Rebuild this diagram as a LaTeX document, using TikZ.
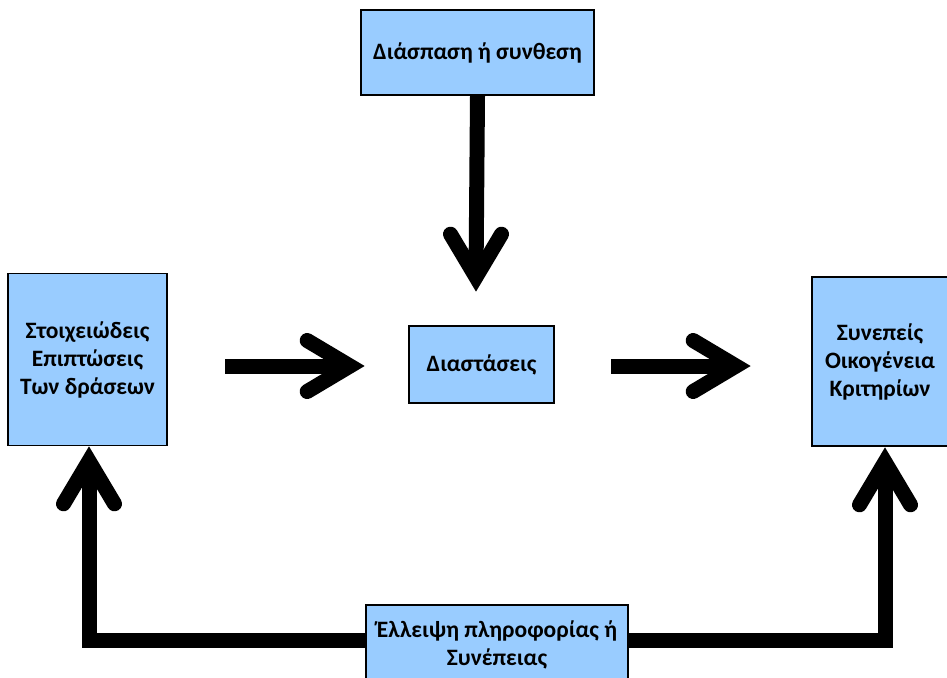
\documentclass[tikz,border=0pt]{standalone}
\usepackage{fontspec}
\setmainfont{Carlito}
\begin{document}
\begin{tikzpicture}[x=1pt,y=-1pt,
  box/.style={draw=black, line width=1.6pt, fill=boxblue, align=center,
    font=\fontsize{23.5}{28}\selectfont\bfseries, inner sep=0pt},
  shaft/.style={line width=15pt, line join=miter},
  chev/.pic={\draw[line width=15pt, line cap=round, line join=miter]
    (-42.8,25.5) -- (0,0) -- (-42.8,-25.5);}]
\definecolor{boxblue}{RGB}{153,204,255}
\useasboundingbox (0,0) rectangle (947,677);

% boxes
\node[box, minimum width=233pt, minimum height=85pt] (top) at (477.5,52.5) {Διάσπαση ή συνθεση};
\node[box, minimum width=159pt, minimum height=172pt] (left) at (87.5,359.5) {Στοιχειώδεις\\Επιπτώσεις\\Των δράσεων};
\node[box, minimum width=145pt, minimum height=77pt] (mid) at (481.5,364.5) {Διαστάσεις};
\node[box, minimum width=136pt, minimum height=169pt] (right) at (880,361.5) {Συνεπείς\\Οικογένεια\\Κριτηρίων};

% free ends of the arrows
\coordinate (vTop) at (476,277);
\coordinate (aL1) at (225,366);
\coordinate (aL2) at (350,366);
\coordinate (aR1) at (611,366);
\coordinate (aR2) at (736,366);
\coordinate (vL) at (89,461);
\coordinate (cL) at (89,640);
\coordinate (vR) at (885,462);
\coordinate (cR) at (885,640);

% feedback loop behind the bottom box
\draw[shaft] (vL) -- (cL) -- (cR) -- (vR);
\node[box, minimum width=262pt, minimum height=80pt] (bot) at (497,645)
  {\fontsize{23.5}{30}\selectfont Έλλειψη πληροφορίας ή\\Συνέπειας};

% arrows
\draw[shaft] (top.south) -- (vTop);
\pic[rotate=-90] at (vTop) {chev};
\draw[shaft] (aL1) -- (aL2);
\pic at (aL2) {chev};
\draw[shaft] (aR1) -- (aR2);
\pic at (aR2) {chev};
\pic[rotate=90] at (vL) {chev};
\pic[rotate=90] at (vR) {chev};
\end{tikzpicture}
\end{document}
